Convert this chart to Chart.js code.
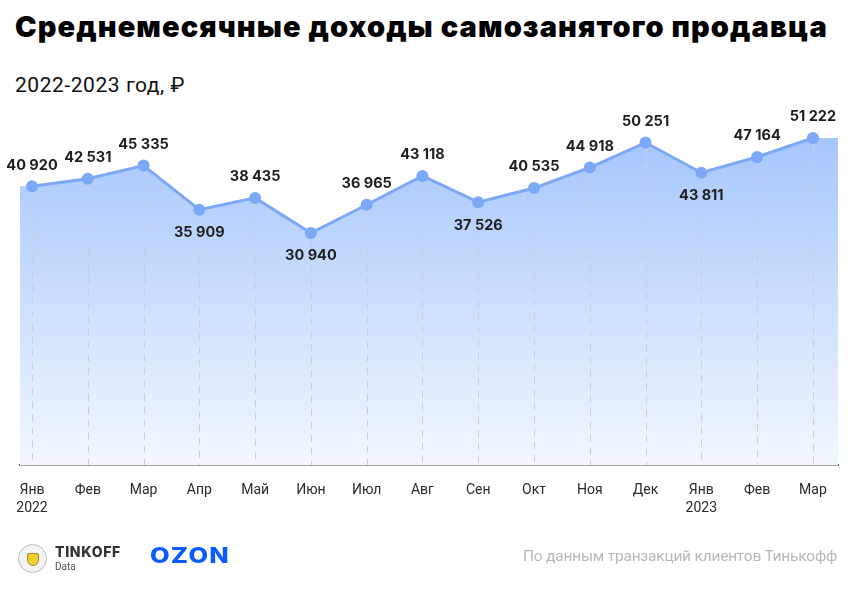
<!DOCTYPE html>
<html lang="ru">
<head>
<meta charset="utf-8">
<script src="https://cdn.jsdelivr.net/npm/chart.js@4/dist/chart.umd.min.js"></script>
<style>
  html,body{margin:0;padding:0;background:#fff;}
  body{width:860px;height:598px;position:relative;overflow:hidden;font-family:Roboto,"Noto Sans",sans-serif;}
  #title{position:absolute;left:15px;top:9px;font-family:Inter,Roboto,sans-serif;font-weight:900;font-size:29px;line-height:36px;color:#000;white-space:nowrap;}
  #subtitle{position:absolute;left:15px;top:71px;font-family:Roboto,sans-serif;font-size:21px;line-height:28px;color:#111;white-space:nowrap;}
  #chart{position:absolute;left:0;top:0;}
  #emblem{position:absolute;left:18px;top:544px;width:29px;height:29px;border-radius:50%;border:1px solid #b9b9b9;background:#f3f3f3;box-sizing:border-box;}
  #emblem::after{content:"";position:absolute;left:8px;top:8px;width:12px;height:13px;background:#f2cf2c;border-radius:2px 2px 6px 6px;border:1px solid #9a8a3a;box-sizing:border-box;}
  #tink{position:absolute;left:55px;top:544px;font-family:Inter,Roboto,sans-serif;font-weight:800;font-size:14px;line-height:16px;color:#333;white-space:nowrap;}
  #tdata{position:absolute;left:55px;top:561px;font-family:Roboto,sans-serif;font-size:10px;line-height:12px;color:#555;}
  #ozon{position:absolute;left:150px;top:543px;font-family:Inter,Roboto,sans-serif;font-weight:800;font-size:21px;line-height:26px;color:#0a5cff;white-space:nowrap;letter-spacing:1px;transform-origin:0 50%;}
  #source{position:absolute;right:23px;top:545px;font-family:Roboto,sans-serif;font-size:15.5px;line-height:22px;color:#b8b8b8;white-space:nowrap;}
</style>
</head>
<body>
<div id="title">Среднемесячные доходы самозанятого продавца</div>
<div id="subtitle">2022-2023 год, ₽</div>
<canvas id="chart" width="860" height="598"></canvas>
<div id="emblem"></div>
<div id="tink">TINKOFF</div>
<div id="tdata">Data</div>
<div id="ozon">OZON</div>
<div id="source">По данным транзакций клиентов Тинькофф</div>
<script>
// ---- data ----
const months = ['Янв','Фев','Мар','Апр','Май','Июн','Июл','Авг','Сен','Окт','Ноя','Дек','Янв','Фев','Мар'];
const years  = ['2022','','','','','','','','','','','','2023','',''];
const incomes = [40920,42531,45335,35909,38435,30940,36965,43118,37526,40535,44918,50251,43811,47164,51222];

// ---- helpers ----
function fmt(v){ return String(v).replace(/\B(?=(\d{3})+(?!\d))/g,' '); }
function fitWidth(id, target){
  const el = document.getElementById(id);
  const n = el.textContent.length;
  const w = el.getBoundingClientRect().width;
  el.style.letterSpacing = ((target - w) / n) + 'px';
}
function scaleWidth(id, target){
  const el = document.getElementById(id);
  const w = el.getBoundingClientRect().width;
  el.style.transform = 'scaleX(' + (target / w) + ')';
}
fitWidth('title', 813);
fitWidth('subtitle', 170);
fitWidth('source', 314);
fitWidth('tink', 66);
scaleWidth('ozon', 80);

const X_MIN = -0.215, X_MAX = 14.45;
const pts = incomes.map((v,i)=>({x:i,y:v}));
const areaPts = [{x:X_MIN,y:incomes[0]}].concat(pts, [{x:X_MAX,y:incomes[incomes.length-1]}]);

const gridPlugin = {
  id:'dropLines',
  beforeDatasetDraw(chart, args){
    if(args.index !== 0) return;
    const meta = chart.getDatasetMeta(0);
    const c = chart.ctx, bottom = chart.chartArea.bottom;
    c.save();
    c.strokeStyle = '#c9cfd9'; c.lineWidth = 1; c.setLineDash([7,6]);
    meta.data.forEach(p=>{
      c.beginPath(); c.moveTo(Math.round(p.x)+0.5, p.y+7); c.lineTo(Math.round(p.x)+0.5, bottom); c.stroke();
    });
    c.restore();
  }
};
const labelPlugin = {
  id:'valueLabels',
  afterDatasetsDraw(chart){
    const meta = chart.getDatasetMeta(0);
    const c = chart.ctx;
    c.save();
    c.font = '700 14.5px Inter, Roboto, sans-serif';
    c.fillStyle = '#1e1e1e'; c.textAlign = 'center'; c.textBaseline = 'middle';
    meta.data.forEach((p,i)=>{
      const v = incomes[i];
      const below = i>0 && i<incomes.length-1 && v<incomes[i-1] && v<incomes[i+1];
      c.fillText(fmt(v), p.x, below ? p.y+23 : p.y-21);
    });
    c.restore();
  }
};

new Chart(document.getElementById('chart'), {
  type:'line',
  data:{ datasets:[
    { data:pts, borderColor:'#7ca8f7', borderWidth:3, pointRadius:6, pointHoverRadius:6,
      pointBackgroundColor:'#7ca8f7', pointBorderWidth:0, fill:false, tension:0 },
    { data:areaPts, borderWidth:0, pointRadius:0, tension:0, fill:'start',
      backgroundColor:(ctx)=>{
        const a = ctx.chart.chartArea; if(!a) return 'rgba(0,0,0,0)';
        const g = ctx.chart.ctx.createLinearGradient(0,a.top,0,a.bottom);
        g.addColorStop(0,'#9fc2fb'); g.addColorStop(0.35,'#bcd5fd'); g.addColorStop(1,'#f2f7ff');
        return g;
      } }
  ]},
  options:{
    responsive:false, animation:false, events:[],
    layout:{padding:{top:110,left:18,right:22,bottom:78}},
    plugins:{legend:{display:false}, tooltip:{enabled:false}},
    scales:{
      x:{ type:'linear', min:X_MIN, max:X_MAX,
        afterBuildTicks:(s)=>{ s.ticks = months.map((_,i)=>({value:i})); },
        afterFit:(s)=>{ s.height = 55; },
        grid:{display:true, color:'rgba(0,0,0,0)', drawTicks:false},
        border:{display:true, color:'#4a4a4a', width:1.5},
        ticks:{ padding:16, autoSkip:false, maxRotation:0, color:'#2a2a2a',
          font:{family:'Roboto', size:14, lineHeight:1.3},
          callback:(v)=> years[v] ? [months[v], years[v]] : months[v] } },
      y:{ display:false, min:-18590, max:57200 }
    }
  },
  plugins:[gridPlugin, labelPlugin]
});
</script>
</body>
</html>
